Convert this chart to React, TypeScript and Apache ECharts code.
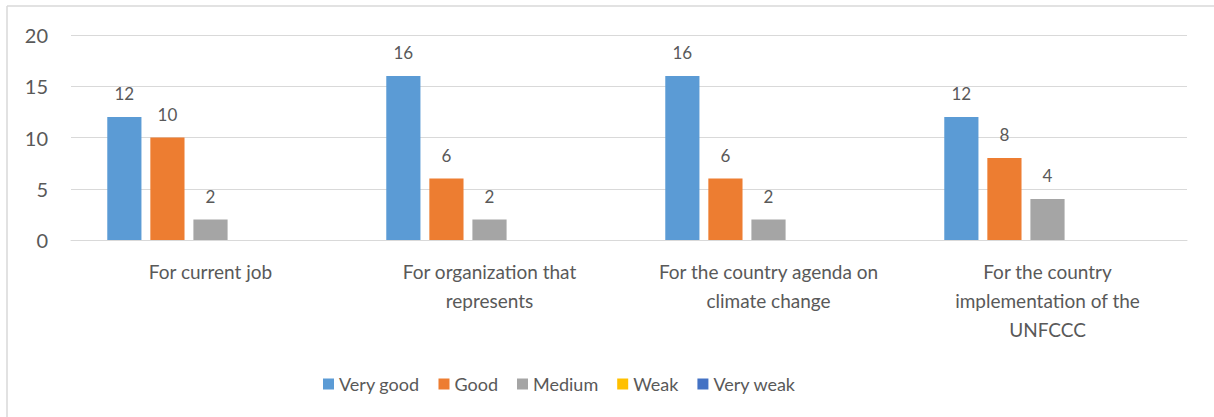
import React, { useEffect, useRef } from "react";
import * as echarts from "echarts";

const categories = [
  "For current job",
  "For organization that represents",
  "For the country agenda on climate change",
  "For the country implementation of the UNFCCC",
];
const wrappedLabels = [
  "For current job",
  "For organization that\nrepresents",
  "For the country agenda on\nclimate change",
  "For the country\nimplementation of the\nUNFCCC",
];
const seriesNames = ["Very good", "Good", "Medium", "Weak", "Very weak"];
const veryGood = [12, 16, 16, 12];
const good = [10, 6, 6, 8];
const medium = [2, 2, 2, 4];
const weak: (number | null)[] = [null, null, null, null];
const veryWeak: (number | null)[] = [null, null, null, null];
const colors = ["#5B9BD5", "#ED7D31", "#A5A5A5", "#FFC000", "#4472C4"];
const yTicks = { min: 0, max: 20, interval: 5 };

const FONT = "Lato";
const TEXT = "#595959";

export default function App() {
  const ref = useRef<HTMLDivElement>(null);
  useEffect(() => {
    if (!ref.current) return;
    const chart = echarts.init(ref.current, undefined, { renderer: "svg" });
    const allData = [veryGood, good, medium, weak, veryWeak];
    chart.setOption({
      animation: false,
      backgroundColor: "#ffffff",
      textStyle: { fontFamily: FONT },
      color: colors,
      grid: { left: 71, right: 27, top: 35, bottom: 177, containLabel: false },
      legend: {
        data: seriesNames,
        left: 318,
        top: 370,
        itemWidth: 11,
        itemHeight: 11,
        itemGap: 19,
        icon: "rect",
        textStyle: { color: TEXT, fontSize: 18, fontFamily: FONT, padding: [0, 0, 0, 0] },
      },
      graphic: [
        { type: "line", shape: { x1: 7, y1: 6, x2: 1300, y2: 6 }, style: { stroke: "#D9D9D9", lineWidth: 1.5 } },
        { type: "line", shape: { x1: 7, y1: 6, x2: 7, y2: 500 }, style: { stroke: "#D9D9D9", lineWidth: 1.5 } },
      ],
      xAxis: {
        type: "category",
        data: categories,
        axisLine: { show: true, lineStyle: { color: "#D9D9D9" } },
        axisTick: { show: false },
        axisLabel: {
          color: TEXT,
          fontSize: 19,
          fontFamily: FONT,
          lineHeight: 29,
          margin: 17,
          interval: 0,
          formatter: (v: string) => wrappedLabels[categories.indexOf(v)] ?? v,
        },
      },
      yAxis: {
        type: "value",
        min: yTicks.min,
        max: yTicks.max,
        interval: yTicks.interval,
        axisLine: { show: false },
        axisTick: { show: false },
        splitLine: { lineStyle: { color: "#D9D9D9", width: 1 } },
        axisLabel: { color: TEXT, fontSize: 20, fontFamily: FONT, margin: 23 },
      },
      series: seriesNames.map((name, i) => ({
        name,
        type: "bar",
        data: allData[i],
        barGap: "26%",
        barCategoryGap: "26%",
        itemStyle: { color: colors[i] },
        label: {
          show: true,
          position: "top",
          distance: 15,
          color: TEXT,
          fontSize: 17,
          fontFamily: FONT,
        },
      })),
    });
    return () => chart.dispose();
  }, []);
  return (
    <div
      ref={ref}
      style={{ position: "absolute", left: 0, top: 0, width: 1214, height: 417 }}
    />
  );
}
